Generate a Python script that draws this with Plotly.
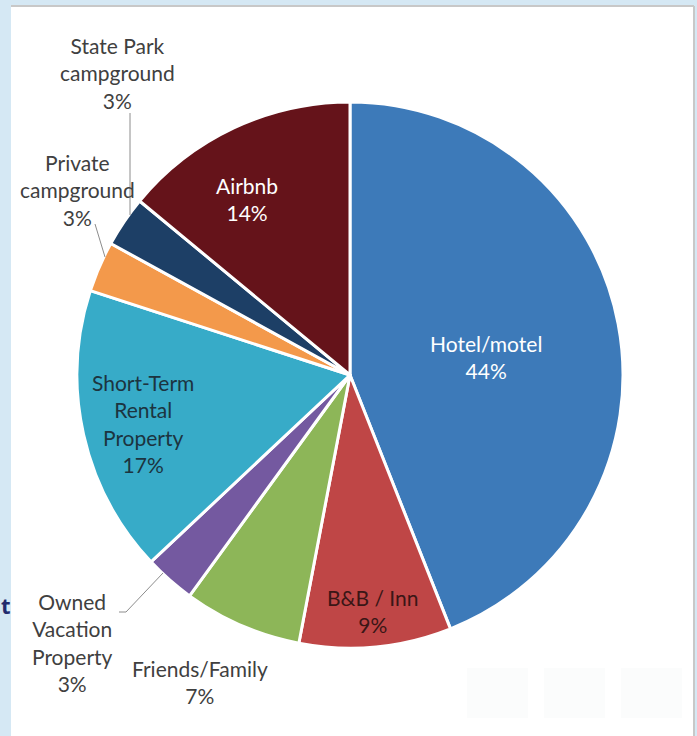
import plotly.graph_objects as go

W, H = 697, 736

labels = ["Hotel/motel", "B&B / Inn", "Friends/Family", "Owned Vacation Property",
          "Short-Term Rental Property", "Private campground", "State Park campground", "Airbnb"]
values = [44, 9, 7, 3, 17, 3, 3, 14]
display_labels = ["Hotel/motel", "B&B / Inn", "Friends/Family", "Owned<br>Vacation<br>Property",
                  "Short-Term<br>Rental<br>Property", "Private<br>campground", "State Park<br>campground", "Airbnb"]
colors = ["#3d7ab9", "#bf4646", "#8db658", "#7459a0", "#37abc8", "#f3994b", "#1d3f66", "#65131a"]

def px(x):
    return x / W

def py(y):
    return 1 - y / H

fig = go.Figure()
fig.add_trace(go.Pie(
    labels=labels, values=values, sort=False, direction="clockwise", rotation=0,
    marker=dict(colors=colors, line=dict(color="white", width=3)),
    textinfo="none", hoverinfo="label+percent", showlegend=False,
    domain=dict(x=[px(77), px(623)], y=[py(648), py(102)]),
))

# label positions (pixel centres) and text colours
label_pos = [(486, 357), (373, 611), (200, 682), (72, 642), (143, 423), (77, 190), (117, 73), (247, 199)]
label_col = ["#ffffff", "#3a1616", "#404040", "#404040", "#1c3440", "#404040", "#404040", "#ffffff"]
total = sum(values)
annotations = []
for lab, v, (x, y), c in zip(display_labels, values, label_pos, label_col):
    annotations.append(dict(
        x=px(x), y=py(y), xref="paper", yref="paper", showarrow=False,
        text=f"{lab}<br>{round(100 * v / total)}%", font=dict(family="Lato, Open Sans, sans-serif", size=21, color=c),
        align="center", xanchor="center", yanchor="middle",
    ))
annotations.append(dict(x=px(0), y=py(605), xref="paper", yref="paper", showarrow=False,
                        text="<b>t</b>", font=dict(family="Open Sans, sans-serif", size=22, color="#232b6e"),
                        xanchor="left", yanchor="middle", borderpad=0))

shapes = [
    dict(type="rect", xref="paper", yref="paper", x0=px(11), x1=px(694), y0=py(736), y1=py(6),
         fillcolor="white", line=dict(width=0), layer="below"),
    dict(type="line", xref="paper", yref="paper", x0=px(11), x1=px(694), y0=py(6), y1=py(6),
         line=dict(color="#c8c8c8", width=2)),
    dict(type="line", xref="paper", yref="paper", x0=px(694), x1=px(694), y0=py(6), y1=py(736),
         line=dict(color="#c8c8c8", width=2)),
    # leader lines
    dict(type="line", xref="paper", yref="paper", x0=px(130), x1=px(130), y0=py(113), y1=py(215),
         line=dict(color="#8c8c8c", width=1)),
    dict(type="line", xref="paper", yref="paper", x0=px(95), x1=px(105), y0=py(224), y1=py(257),
         line=dict(color="#8c8c8c", width=1)),
    dict(type="path", xref="paper", yref="paper",
         path=f"M {px(119)} {py(612)} L {px(126)} {py(612)} L {px(163)} {py(573)}",
         line=dict(color="#8c8c8c", width=1)),
]
# faint icon boxes at bottom right
for x0 in (467, 544, 621):
    shapes.append(dict(type="rect", xref="paper", yref="paper", x0=px(x0), x1=px(x0 + 61),
                       y0=py(718), y1=py(668), fillcolor="#fbfcfc", line=dict(width=0), layer="below"))

fig.update_layout(
    width=W, height=H, margin=dict(l=0, r=0, t=0, b=0),
    paper_bgcolor="#d5e8f4", plot_bgcolor="white",
    annotations=annotations, shapes=shapes,
)
fig.write_html("out.html")
